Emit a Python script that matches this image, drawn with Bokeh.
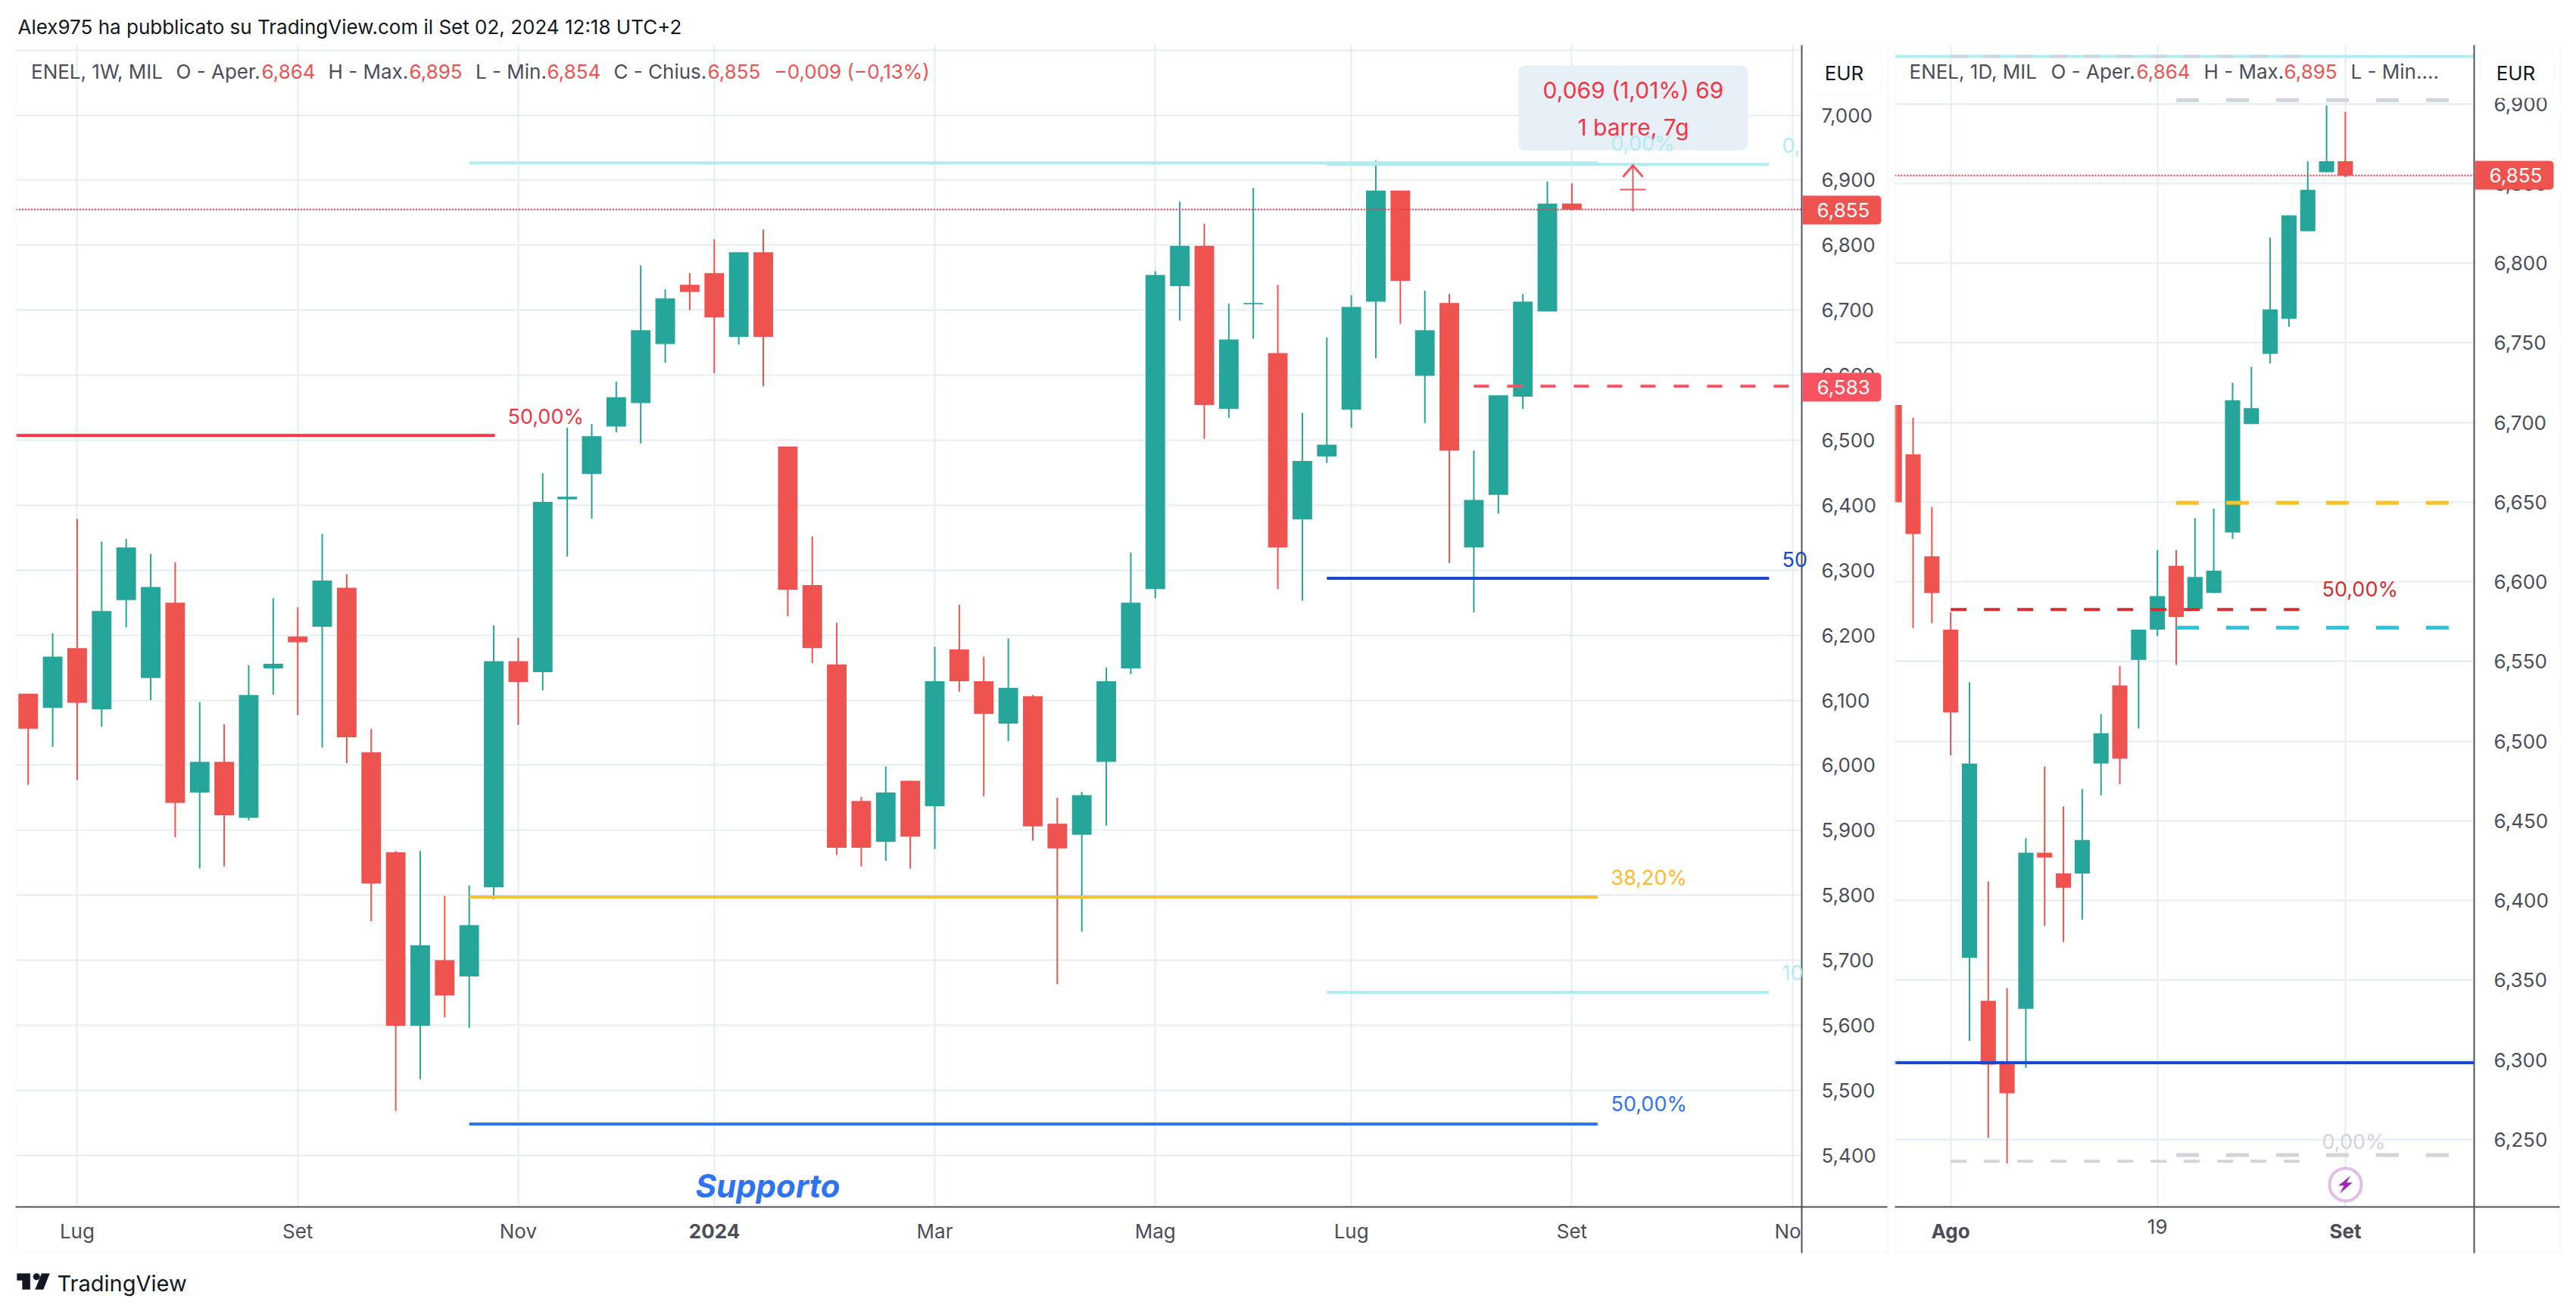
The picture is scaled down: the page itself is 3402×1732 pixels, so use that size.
from bokeh.plotting import figure
from bokeh.layouts import row, column
from bokeh.models import (BoxAnnotation, Label, PolyAnnotation, FixedTicker, Range1d,
                          CustomJSTickFormatter)
from bokeh.embed import file_html
from bokeh.resources import INLINE

# ---------- weekly chart data ----------
wk_open = [6.110,6.088,6.180,6.086,6.254,6.134,6.250,5.958,6.005,5.919,6.149,6.198,6.213,6.273,6.020,5.866,5.599,5.700,5.675,5.812,6.160,6.143,6.409,6.448,6.521,6.557,6.648,6.739,6.757,6.659,6.789,6.490,6.277,6.155,5.945,5.882,5.976,5.937,6.178,6.129,6.064,6.106,5.910,5.893,6.005,6.149,6.271,6.737,6.799,6.548,6.709,6.634,6.378,6.475,6.547,6.713,6.884,6.599,6.711,6.335,6.416,6.567,6.698,6.864]
wk_high = [6.110,6.203,6.379,6.344,6.348,6.325,6.312,6.097,6.063,6.154,6.257,6.243,6.356,6.294,6.056,5.868,5.868,5.799,5.815,6.215,6.196,6.449,6.519,6.525,6.590,6.769,6.732,6.757,6.809,6.789,6.824,6.490,6.352,6.219,5.951,5.998,5.976,6.182,6.247,6.167,6.195,6.108,5.950,5.959,6.150,6.327,6.760,6.867,6.833,6.710,6.888,6.739,6.542,6.658,6.723,6.930,6.884,6.730,6.725,6.484,6.569,6.725,6.898,6.895]
wk_low = [5.970,6.028,5.977,6.059,6.212,6.100,5.889,5.841,5.844,5.915,6.108,6.077,6.027,6.003,5.760,5.468,5.517,5.612,5.596,5.794,6.062,6.115,6.321,6.379,6.512,6.495,6.619,6.700,6.603,6.647,6.583,6.229,6.157,5.862,5.844,5.853,5.841,5.871,6.113,5.952,6.037,5.884,5.663,5.744,5.907,6.140,6.257,6.684,6.502,6.534,6.656,6.271,6.253,6.465,6.519,6.626,6.679,6.526,6.311,6.235,6.387,6.548,6.698,6.854]
wk_close = [6.056,6.167,6.096,6.237,6.335,6.274,5.942,6.005,5.923,6.108,6.156,6.189,6.284,6.043,5.818,5.599,5.723,5.646,5.754,6.160,6.128,6.405,6.413,6.506,6.566,6.669,6.718,6.728,6.689,6.789,6.659,6.270,6.180,5.873,5.873,5.958,5.890,6.129,6.129,6.079,6.119,5.906,5.872,5.954,6.129,6.250,6.754,6.799,6.554,6.655,6.711,6.335,6.468,6.493,6.705,6.884,6.745,6.669,6.484,6.408,6.569,6.713,6.864,6.855]
wk_ticks = [2, 11, 20, 28, 37, 46, 54, 63, 72]
wk_tick_labels = ["Lug", "Set", "Nov", "2024", "Mar", "Mag", "Lug", "Set", "No"]
wk_prices = [7.0, 6.9, 6.8, 6.7, 6.6, 6.5, 6.4, 6.3, 6.2, 6.1, 6.0, 5.9, 5.8, 5.7, 5.6, 5.5, 5.4]
wk_grid_prices = [7.1] + wk_prices

# fibonacci levels on the weekly chart: price, first bar, last bar
wk_fib_price = [6.9265, 5.7973, 5.448, 6.5073, 6.9242, 6.2874, 5.6506]
wk_fib_start = [18, 18, 18, -0.5, 53, 53, 53]
wk_fib_end = [64.05, 64.05, 64.05, 19.05, 71.05, 71.05, 71.05]
wk_fib_color = ["#b2ebf2", "#fbc02d", "#2f73f5", "#f23645", "#b2ebf2", "#1848cc", "#b2ebf2"]
last_price = 6.855
target_price = 6.583

# ---------- daily chart data ----------
dy_open = [6.711,6.680,6.616,6.570,6.364,6.337,6.298,6.332,6.430,6.417,6.417,6.486,6.535,6.551,6.570,6.610,6.583,6.593,6.631,6.699,6.743,6.765,6.820,6.857,6.864]
dy_high = [6.711,6.703,6.647,6.581,6.537,6.412,6.345,6.439,6.484,6.459,6.470,6.517,6.547,6.570,6.620,6.620,6.640,6.646,6.725,6.735,6.816,6.830,6.864,6.899,6.895]
dy_low = [6.650,6.571,6.574,6.491,6.312,6.251,6.235,6.295,6.384,6.374,6.388,6.466,6.473,6.508,6.566,6.548,6.583,6.593,6.627,6.699,6.737,6.760,6.820,6.857,6.854]
dy_close = [6.650,6.630,6.593,6.518,6.486,6.297,6.279,6.430,6.427,6.408,6.438,6.505,6.489,6.570,6.591,6.578,6.603,6.607,6.714,6.709,6.771,6.830,6.846,6.864,6.855]
dy_ticks = [3, 14, 24]
dy_tick_labels = ["Ago", "19", "Set"]
dy_prices = [6.9, 6.85, 6.8, 6.75, 6.7, 6.65, 6.6, 6.55, 6.5, 6.45, 6.4, 6.35, 6.3, 6.25]

dy_solid_price = [6.9297, 6.2982]
dy_solid_color = ["#b2ebf2", "#1848cc"]
dy_dash1_price = [6.9297, 6.5826, 6.2363]
dy_dash1_color = ["#d1d4dc", "#d32f2f", "#d1d4dc"]
dy_dash2_price = [6.9023, 6.6496, 6.5712, 6.2403]
dy_dash2_color = ["#d1d4dc", "#fbc02d", "#26c6da", "#d1d4dc"]
dy_dash1_span = (3, 21.55)
dy_dash2_span = (15, 29.5)

UP, DOWN = "#26a69a", "#ef5350"
GRID = "#e3edf3"
AXIS = "#50535e"
FONT = "Inter"
TXT = "#4b4e59"
RED = "#f23645"
PAGE_W, PAGE_H = 3390, 1720


def chart(canvas_x0, canvas_w, fx0, fx1, fy0, fy1, xr, yr):
    return figure(width=canvas_w, height=PAGE_H, output_backend="svg", toolbar_location=None,
                  x_range=Range1d(*xr), y_range=Range1d(*yr), y_axis_location="right",
                  min_border_left=fx0 - canvas_x0, min_border_right=canvas_x0 + canvas_w - fx1,
                  min_border_top=fy0, min_border_bottom=PAGE_H - fy1,
                  background_fill_color="white", border_fill_color="white", outline_line_color=None)


def candles(p, o, h, l, c, width):
    idx = list(range(len(o)))
    col = [UP if b >= a else DOWN for a, b in zip(o, c)]
    p.segment(idx, l, idx, h, line_color=col, line_width=2)
    p.vbar(idx, width, o, c, fill_color=col, line_color=None)


def axes(p, prices, grid_prices, ticks, tick_labels, hidden):
    y = p.yaxis[0]
    y.ticker = FixedTicker(ticks=prices)
    y.formatter = CustomJSTickFormatter(code="return tick.toFixed(3).replace('.', ',')")
    y.axis_line_color = None
    y.major_tick_line_color = None
    y.minor_tick_line_color = None
    y.major_label_standoff = 20
    y.major_label_text_font = FONT
    y.major_label_text_font_size = "26px"
    y.major_label_text_color = TXT
    x = p.xaxis[0]
    x.ticker = FixedTicker(ticks=ticks)
    x.major_label_overrides = {t: ("" if s in hidden else s) for t, s in zip(ticks, tick_labels)}
    x.axis_line_color = None
    x.major_tick_line_color = None
    x.minor_tick_line_color = None
    x.major_label_standoff = 10
    x.major_label_text_font = FONT
    x.major_label_text_font_size = "26px"
    x.major_label_text_color = TXT
    p.xgrid.ticker = FixedTicker(ticks=ticks)
    p.ygrid.ticker = FixedTicker(ticks=grid_prices)
    p.xgrid.grid_line_color = GRID
    p.ygrid.grid_line_color = GRID
    p.xgrid.grid_line_width = 2
    p.ygrid.grid_line_width = 2


# ---------- left panel ----------
wk_spacing = 32.36
wk_x0 = 36.7
Lp = chart(0, 2502, 21, 2379, 59, 1594,
           ((21 - wk_x0) / wk_spacing, (2379 - wk_x0) / wk_spacing),
           (7 - (1594 - 151.6) / 858.8, 7 + (151.6 - 59) / 858.8))
axes(Lp, wk_prices, wk_grid_prices, wk_ticks, wk_tick_labels, {"2024", "No"})
candles(Lp, wk_open, wk_high, wk_low, wk_close, 0.80)
Lp.segment(wk_fib_start, wk_fib_price, wk_fib_end, wk_fib_price, line_color=wk_fib_color, line_width=4)
Lp.segment([-1], [last_price], [73], [last_price], line_color=RED, line_width=2, line_dash="2 2")
Lp.segment([59], [target_price], [72.4], [target_price], line_color="#f7525f", line_width=4, line_dash="20 24")

# ---------- right panel ----------
dy_spacing = 24.82
dy_x0 = 2501.2
Rp = chart(2502, PAGE_W - 2502, 2502, 3267, 59, 1594,
           ((2502 - dy_x0) / dy_spacing, (3267 - dy_x0) / dy_spacing),
           (6.9 - (1594 - 136.6) / 2105.2, 6.9 + (136.6 - 59) / 2105.2))
axes(Rp, dy_prices, dy_prices, dy_ticks, dy_tick_labels, {"Ago", "Set"})
candles(Rp, dy_open, dy_high, dy_low, dy_close, 0.81)
xr = ((2502 - dy_x0) / dy_spacing, (3267 - dy_x0) / dy_spacing)
Rp.segment([xr[0]] * 2, dy_solid_price, [xr[1]] * 2, dy_solid_price, line_color=dy_solid_color, line_width=4)
Rp.segment([dy_dash1_span[0]] * 3, dy_dash1_price, [dy_dash1_span[1]] * 3, dy_dash1_price,
           line_color=dy_dash1_color, line_width=4, line_dash="21 23")
Rp.segment([dy_dash2_span[0]] * 4, dy_dash2_price, [dy_dash2_span[1]] * 4, dy_dash2_price,
           line_color=dy_dash2_color, line_width=5, line_dash="30 36")
Rp.segment([xr[0]], [last_price], [xr[1]], [last_price], line_color=RED, line_width=2, line_dash="2 2")

# ---------- transparent sheet over both panels, its ranges are page pixels ----------
O = figure(width=PAGE_W, height=PAGE_H, output_backend="svg", toolbar_location=None,
           x_range=Range1d(0, PAGE_W), y_range=Range1d(PAGE_H, 0), x_axis_type=None, y_axis_type=None,
           min_border=0, outline_line_color=None, background_fill_alpha=0, border_fill_alpha=0,
           margin=(-PAGE_H, 0, 0, 0))
O.grid.visible = False


def text(px, py, s, color=TXT, size=26, align="left", style="normal", font=FONT):
    O.add_layout(Label(x=px, y=py, text=s, text_color=color, text_align=align, text_baseline="middle",
                       text_font=font, text_font_size=f"{size}px", text_font_style=style))


def box(x0, y0, x1, y1, fill, line=None, radius=0, lw=2):
    O.add_layout(BoxAnnotation(left=x0, right=x1, top=y0, bottom=y1, fill_color=fill, fill_alpha=1 if fill else 0,
                               line_color=line, line_width=lw, border_radius=radius))


def poly(pts, color):
    O.add_layout(PolyAnnotation(xs=[a for a, _ in pts], ys=[b for _, b in pts],
                                fill_color=color, fill_alpha=1, line_color=color, line_width=1))


# panel frames and axis rules
box(21, 59, 2492, 1655, None, line="#eceff2")
box(2503, 59, 3380, 1655, None, line="#eceff2")
box(20, 1593, 2492, 1595, AXIS)
box(2378, 59, 2380, 1655, AXIS)
box(2502, 1593, 3380, 1595, AXIS)
box(3266, 59, 3268, 1655, AXIS)

# measuring tool
box(2005, 86, 2308, 198, "#e7eff7", radius=8)
text(2156.5, 118, "0,069 (1,01%) 69", "#f23645", 30, "center")
text(2156.5, 167, "1 barre, 7g", "#f23645", 30, "center")
box(2155, 218, 2157, 279, "#f7525f")
box(2139, 249, 2173, 251, "#f7525f")
poly([(2156, 216), (2170, 232), (2168, 234), (2156, 220), (2144, 234), (2142, 232)], "#f7525f")

# fibonacci labels
text(670, 550, "50,00%", "#f23645", 27)
text(2127, 189, "0,00%", "#b2ebf2", 27)
text(2353, 191, "0,", "#b2ebf2", 27)
text(2127, 1159, "38,20%", "#ffb92e", 27)
text(2127, 1458, "50,00%", "#2f73f5", 27)
text(2353, 738, "50", "#1848cc", 27)
text(2353, 1284, "10", "#b2ebf2", 27)
text(918, 1566, "Supporto", "#2f73f5", 42, style="bold italic")
text(3066, 778, "50,00%", "#d32f2f", 27)
text(3066, 1508, "0,00%", "#d1d4dc", 27)

# price-scale furniture
box(2386, 67, 2484, 125, "white", line="#eceff2", radius=10)
text(2435, 96, "EUR", "#131722", 26, "center")
box(2380, 258, 2484, 296, DOWN, radius=(0, 5, 5, 0))
text(2399, 277, "6,855", "white", 26)
box(2380, 492, 2484, 530, "#f7525f", radius=(0, 5, 5, 0))
text(2399, 511, "6,583", "white", 26)
box(3270, 124, 3378, 129, "white")
box(3275, 67, 3372, 125, "white", line="#eceff2", radius=10)
text(3322, 96, "EUR", "#131722", 26, "center")
box(3268, 212, 3372, 250, DOWN, radius=(0, 5, 5, 0))
text(3287, 231, "6,855", "white", 26)

# header, legends, bold dates, clipped date, footer
text(23, 35, "Alex975 ha pubblicato su TradingView.com il Set 02, 2024 12:18 UTC+2", "#131722", 26)
for px, s, col in [(40.5, "ENEL, 1W, MIL", TXT), (232, "O - Aper.", TXT), (345, "6,864", DOWN),
                   (433, "H - Max.", TXT), (540, "6,895", DOWN), (627.5, "L - Min.", TXT), (722, "6,854", DOWN),
                   (810, "C - Chius.", TXT), (934, "6,855", DOWN), (1022, "\u22120,009 (\u22120,13%)", DOWN),
                   (2521, "ENEL, 1D, MIL", TXT), (2708, "O - Aper.", TXT), (2821, "6,864", DOWN),
                   (2910, "H - Max.", TXT), (3016, "6,895", DOWN), (3104, "L - Min....", TXT)]:
    text(px, 94, s, col, 26)
text(943, 1626, "2024", TXT, 26, "center", style="bold")
text(2343, 1626, "No", TXT, 26)
text(2575.5, 1626, "Ago", TXT, 26, "center", style="bold")
text(3097, 1626, "Set", TXT, 26, "center", style="bold")

poly([(22, 1682), (39.3, 1682), (39.3, 1703), (29, 1703), (29, 1691), (22, 1691)], "#131722")
poly([(47.7 + 4.6 * a, 1686.2 + 4.6 * b) for a, b in
      [(1, 0), (.7, .7), (0, 1), (-.7, .7), (-1, 0), (-.7, -.7), (0, -1), (.7, -.7)]], "#131722")
poly([(54.5, 1682), (65, 1682), (56.7, 1703), (46, 1703)], "#131722")
text(75, 1695, "TradingView", "#131722", 29)

# earnings badge
box(3076, 1543, 3118, 1586, "white", line="#9c27b0", radius=21, lw=4)
poly([(3060 + a / 3, 1530 + b / 3) for a, b in
      [(130, 70), (84, 107), (106, 107), (90, 137), (138, 96), (115, 96)]], "#9c27b0")

layout = column(row(Lp, Rp, spacing=0), O, spacing=0)
open("out.html", "w").write(file_html(layout, INLINE))
